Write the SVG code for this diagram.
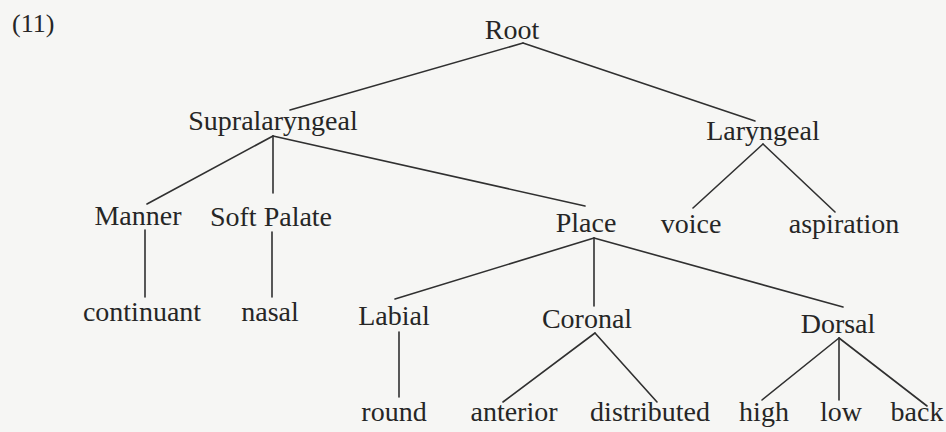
<svg xmlns="http://www.w3.org/2000/svg" width="946" height="432" viewBox="0 0 946 432">
<style>
.bg{fill:#f6f6f4}
text{font-family:"Liberation Serif","Times New Roman",serif;font-size:28px;fill:#262626;text-anchor:middle}
.lbl{text-anchor:start;font-size:26px}
.edges line{stroke:#303030;stroke-width:1.6;stroke-linecap:round}
</style>
<rect class="bg" x="0" y="0" width="946" height="432"/>
<text class="lbl" x="12" y="32">(11)</text>
<g class="edges" id="connectors">
<line x1="523" y1="43" x2="290" y2="110"/>
<line x1="523" y1="43" x2="755" y2="121"/>
<line x1="273" y1="136" x2="147" y2="204"/>
<line x1="273" y1="136" x2="273" y2="193"/>
<line x1="273" y1="136" x2="585" y2="206"/>
<line x1="763" y1="144" x2="693" y2="208"/>
<line x1="763" y1="144" x2="835" y2="212"/>
<line x1="145" y1="230" x2="145" y2="297"/>
<line x1="272" y1="232" x2="272" y2="297"/>
<line x1="594" y1="238" x2="395" y2="299"/>
<line x1="594" y1="238" x2="594" y2="306"/>
<line x1="594" y1="238" x2="843" y2="307"/>
<line x1="399" y1="332" x2="399" y2="397"/>
<line x1="595" y1="333" x2="503" y2="402"/>
<line x1="595" y1="333" x2="657" y2="402"/>
<line x1="839" y1="338" x2="762" y2="400"/>
<line x1="839" y1="338" x2="839" y2="400"/>
<line x1="839" y1="338" x2="927" y2="406"/>
</g>
<g id="root"><text x="512" y="39">Root</text></g>
<g id="supralaryngeal"><text x="273" y="130">Supralaryngeal</text></g>
<g id="laryngeal"><text x="763" y="140">Laryngeal</text></g>
<g id="manner"><text x="138" y="225">Manner</text></g>
<g id="softpalate"><text x="271" y="226">Soft Palate</text></g>
<g id="place"><text x="586" y="232">Place</text></g>
<g id="voice"><text x="691" y="233">voice</text></g>
<g id="aspiration"><text x="844" y="233">aspiration</text></g>
<g id="continuant"><text x="142" y="321">continuant</text></g>
<g id="nasal"><text x="270" y="321">nasal</text></g>
<g id="labial"><text x="394" y="325">Labial</text></g>
<g id="coronal"><text x="587" y="328">Coronal</text></g>
<g id="dorsal"><text x="838" y="333">Dorsal</text></g>
<g id="round"><text x="394" y="421">round</text></g>
<g id="anterior"><text x="514" y="421">anterior</text></g>
<g id="distributed"><text x="650" y="421">distributed</text></g>
<g id="high"><text x="764" y="421">high</text></g>
<g id="low"><text x="841" y="421">low</text></g>
<g id="back"><text x="917" y="421">back</text></g>
</svg>
